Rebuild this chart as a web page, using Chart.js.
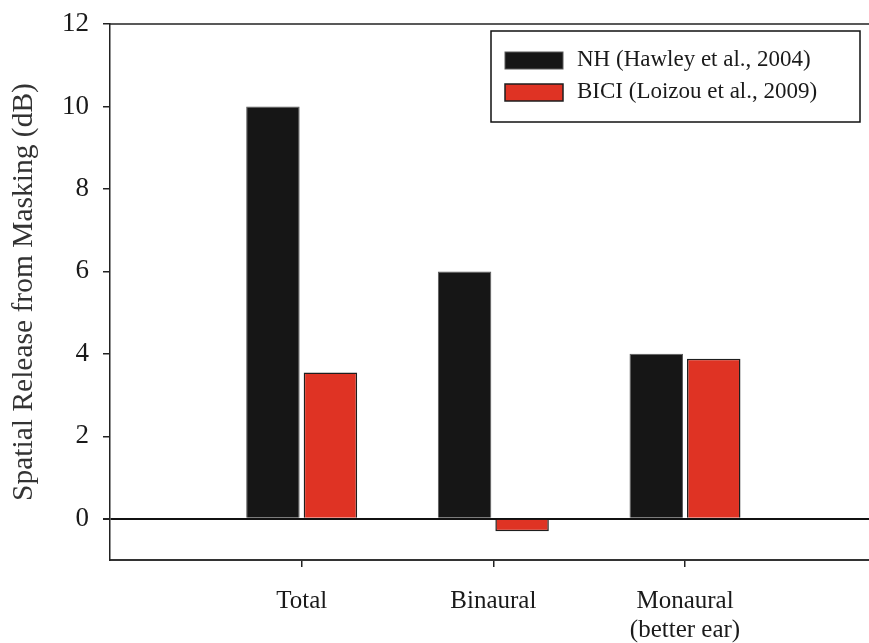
<!DOCTYPE html>
<html>
<head>
<meta charset="utf-8">
<script src="https://cdn.jsdelivr.net/npm/chart.js@4/dist/chart.umd.min.js"></script>
<style>
  html, body { margin: 0; padding: 0; background: #fff; }
  #wrap { width: 869px; height: 643px; }
</style>
</head>
<body>
<div id="wrap"><canvas id="c" width="869" height="643"></canvas></div>
<script>
const categories = ['Total', 'Binaural', ['Monaural', '(better ear)']];
const categoryPositions = [1, 2, 3];
const seriesNames = ['NH (Hawley et al., 2004)', 'BICI (Loizou et al., 2009)'];
const nhValues = [10, 6, 4];
const biciValues = [3.55, -0.3, 3.88];
const yTickValues = [0, 2, 4, 6, 8, 10, 12];

const SERIF = '"Liberation Serif", "Times New Roman", serif';
const INK = '#1a1a1a';

const legendBox = {
  id: 'legendBox',
  afterDraw(chart) {
    const ctx = chart.ctx;
    const area = chart.chartArea;
    const x0 = area.left + 381, y0 = area.top + 7, w = 369, h = 91;
    ctx.save();
    // top frame line
    ctx.strokeStyle = '#222';
    ctx.lineWidth = 1.5;
    ctx.beginPath();
    ctx.moveTo(area.left, area.top);
    ctx.lineTo(area.right, area.top);
    ctx.stroke();
    // legend frame
    ctx.fillStyle = '#fff';
    ctx.fillRect(x0, y0, w, h);
    ctx.strokeStyle = '#111';
    ctx.lineWidth = 1.5;
    ctx.strokeRect(x0, y0, w, h);
    ctx.font = '23px ' + SERIF;
    ctx.textBaseline = 'middle';
    ctx.textAlign = 'left';
    chart.data.datasets.forEach((ds, i) => {
      const sy = y0 + 21 + i * 32;
      ctx.fillStyle = ds.backgroundColor;
      ctx.fillRect(x0 + 14, sy, 58, 17);
      ctx.strokeStyle = ds.borderColor;
      ctx.lineWidth = ds.borderWidth;
      ctx.strokeRect(x0 + 14, sy, 58, 17);
      ctx.fillStyle = INK;
      ctx.fillText(ds.label, x0 + 86, sy + 8);
    });
    ctx.restore();
  }
};

new Chart(document.getElementById('c'), {
  type: 'bar',
  data: {
    datasets: [
      {
        label: seriesNames[0],
        data: categoryPositions.map((x, i) => ({ x: x, y: nhValues[i] })),
        backgroundColor: '#161616',
        borderColor: '#5a5a5a',
        borderWidth: 1
      },
      {
        label: seriesNames[1],
        data: categoryPositions.map((x, i) => ({ x: x, y: biciValues[i] })),
        backgroundColor: '#DF3324',
        borderColor: '#1e1e1e',
        borderWidth: 1.5
      }
    ]
  },
  options: {
    responsive: false,
    animation: false,
    devicePixelRatio: 1,
    categoryPercentage: 0.6,
    barPercentage: 0.93,
    layout: { padding: { top: 24, right: 0, bottom: 0, left: 0 } },
    plugins: {
      legend: { display: false },
      tooltip: { enabled: false }
    },
    scales: {
      x: {
        type: 'linear',
        min: 0,
        max: 3.96,
        offset: false,
        afterBuildTicks: (scale) => { scale.ticks = categoryPositions.map(v => ({ value: v })); },
        afterFit: (scale) => { scale.height = 83; scale.paddingLeft = 0; scale.paddingRight = 0; },
        ticks: {
          callback: (v) => { const i = categoryPositions.indexOf(v); return i >= 0 ? categories[i] : ''; },
          font: { family: SERIF, size: 25, lineHeight: 1.15 },
          color: INK,
          padding: 20,
          maxRotation: 0,
          autoSkip: false
        },
        grid: {
          offset: false,
          drawOnChartArea: false,
          drawTicks: true,
          tickLength: 7,
          color: '#222',
          lineWidth: 1.5
        },
        border: { display: true, color: '#333', width: 2 }
      },
      y: {
        min: -1,
        max: 12,
        afterBuildTicks: (scale) => { scale.ticks = yTickValues.map(v => ({ value: v })); },
        afterFit: (scale) => { scale.width = 110; scale.paddingTop = 0; scale.paddingBottom = 0; },
        ticks: {
          font: { family: SERIF, size: 27 },
          color: INK,
          padding: 14
        },
        grid: {
          drawOnChartArea: true,
          drawTicks: true,
          tickLength: 7,
          color: (ctx) => (ctx.tick && ctx.tick.value === 0) ? '#111' : 'rgba(0,0,0,0)',
          tickColor: '#222',
          lineWidth: (ctx) => (ctx.tick && ctx.tick.value === 0) ? 2 : 1.5
        },
        border: { display: true, color: '#222', width: 1.5 },
        title: {
          display: true,
          text: 'Spatial Release from Masking (dB)',
          font: { family: SERIF, size: 29.5 },
          color: '#333',
          padding: { top: 7, bottom: 0 }
        }
      }
    }
  },
  plugins: [legendBox]
});
</script>
</body>
</html>
